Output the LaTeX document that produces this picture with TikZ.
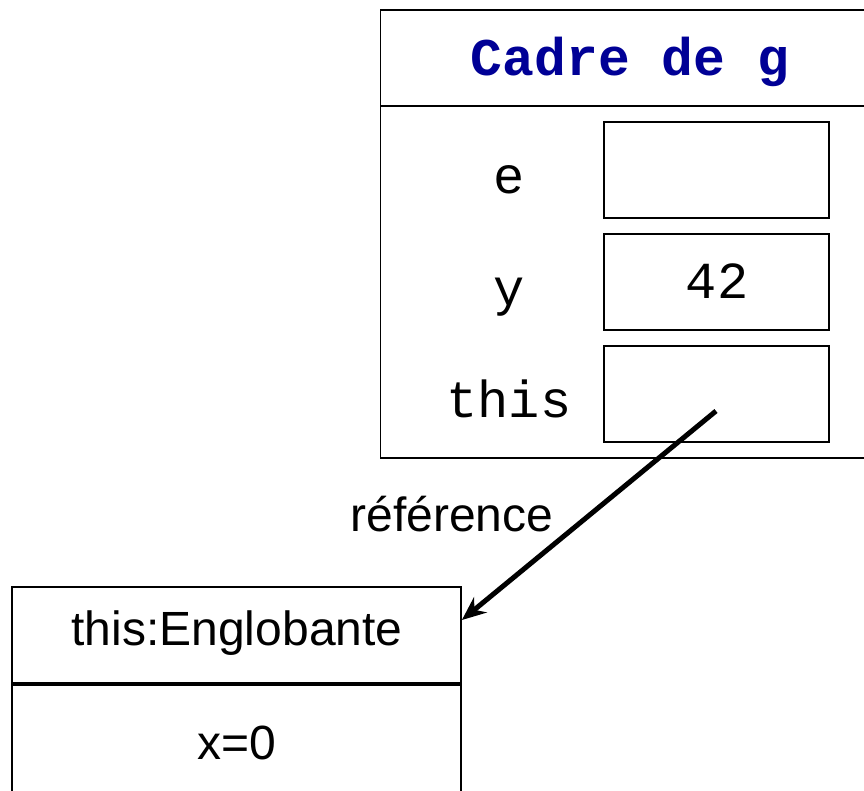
\documentclass[tikz,border=0pt]{standalone}
\usepackage{fontspec}
\setmainfont{Liberation Sans}
\setmonofont{Liberation Mono}
\usetikzlibrary{arrows.meta}
\definecolor{navy}{RGB}{0,0,150}
\tikzset{
  box/.style={draw=black, line width=1.8pt, minimum width=225pt, minimum height=96pt, inner sep=0pt},
  mono/.style={font=\ttfamily\fontsize{52}{60}\selectfont, anchor=base, inner sep=0pt},
  sans/.style={font=\fontsize{48}{56}\selectfont, anchor=base, inner sep=0pt},
  frameline/.style={draw=black, line width=1.8pt},
  refarrow/.style={line width=5pt, -{Stealth[length=24pt, width=20pt, inset=8pt]}}
}
\begin{document}
\begin{tikzpicture}[x=1pt, y=-1pt]
\clip (0,0) rectangle (864,790);
\fill[white] (0,0) rectangle (864,790);
% frame of g
\draw[frameline] (900,10) -- (380.5,10) -- (380.5,458) -- (900,458);
\draw[frameline] (380.5,106) -- (900,106);
\node[font=\ttfamily\bfseries\fontsize{53}{60}\selectfont, text=navy, anchor=base, inner sep=0pt] (title) at (630,75) {Cadre de g};
% slots
\node[box] (se) at (716.5,170) {};
\node[box] (sy) at (716.5,282) {};
\node[box] (st) at (716.5,394) {};
\node[mono] (le) at (509,193) {e};
\node[mono] (ly) at (509,305) {y};
\node[mono] (lt) at (509,417) {this};
\node[mono] (v42) at (717,298) {42};
% object box
\node[draw=black, line width=1.8pt, minimum width=449pt, minimum height=96pt, inner sep=0pt] (hdr) at (236.5,635) {};
\node[draw=black, line width=1.8pt, minimum width=449pt, minimum height=140pt, inner sep=0pt, anchor=north] (body) at (hdr.south) {};
\node[sans] (name) at (237,645) {this:Englobante};
\node[sans] (x0) at (237,759) {x=0};
% arrow
\coordinate (start) at (716,411);
\coordinate (tip) at ([yshift=15pt]hdr.east);
\draw[refarrow] (start) -- (tip);
\node[sans] (ref) at (452,531) {référence};
\end{tikzpicture}
\end{document}
